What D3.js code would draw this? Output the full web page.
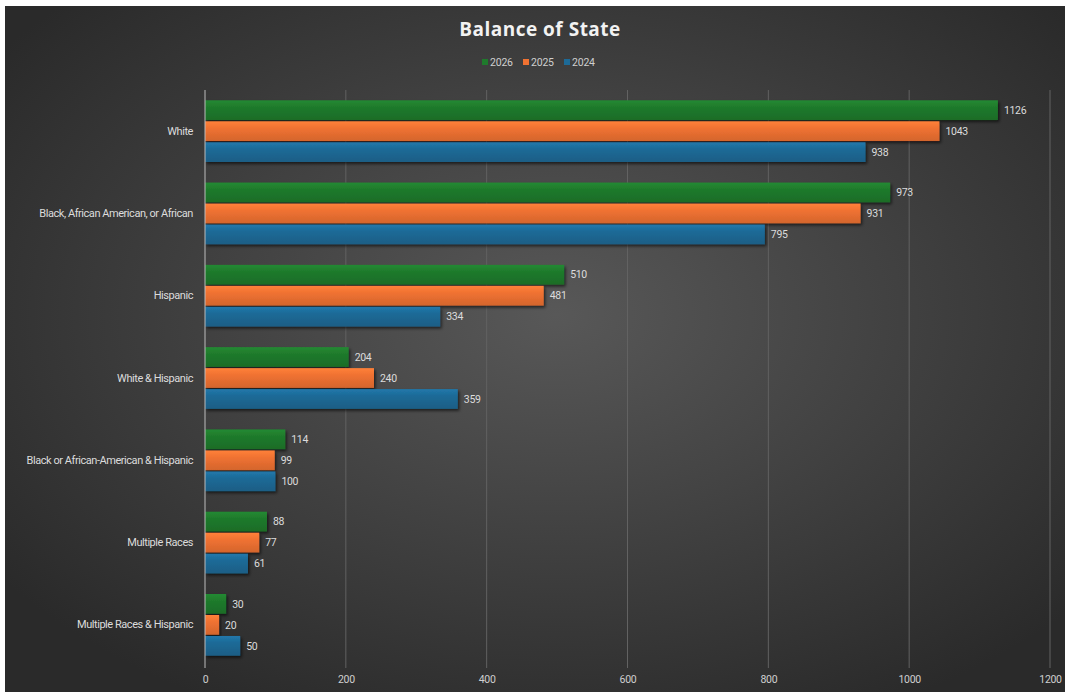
<!DOCTYPE html>
<html>
<head>
<meta charset="utf-8">
<script src="https://cdn.jsdelivr.net/npm/d3@7"></script>
<style>
  html, body { margin: 0; padding: 0; background: #fff; }
  #chart { width: 1066px; height: 692px; }
  text { font-family: "Roboto", "Liberation Sans", sans-serif; }
</style>
</head>
<body>
<div id="chart"></div>
<script>
const categories = [
  'White',
  'Black, African American, or African',
  'Hispanic',
  'White & Hispanic',
  'Black or African-American & Hispanic',
  'Multiple Races',
  'Multiple Races & Hispanic'
];
const seriesNames = ['2026', '2025', '2024'];
const values2026 = [1126, 973, 510, 204, 114, 88, 30];
const values2025 = [1043, 931, 481, 240, 99, 77, 20];
const values2024 = [938, 795, 334, 359, 100, 61, 50];
const xTicks = [0, 200, 400, 600, 800, 1000, 1200];
const colors = { '2026': '#1f7a2c', '2025': '#f07232', '2024': '#1d6a97' };

const W = 1066, H = 692;
const svg = d3.select('#chart').append('svg').attr('width', W).attr('height', H);
const defs = svg.append('defs');

const bg = defs.append('radialGradient').attr('id', 'bg').attr('cx', '52%').attr('cy', '45%').attr('r', '65%');
bg.append('stop').attr('offset', '0%').attr('stop-color', '#585858');
bg.append('stop').attr('offset', '100%').attr('stop-color', '#2a2a2a');

seriesNames.forEach(s => {
  const g = defs.append('linearGradient').attr('id', 'g' + s).attr('x1', 0).attr('y1', 0).attr('x2', 0).attr('y2', 1);
  const c = d3.color(colors[s]);
  g.append('stop').attr('offset', '0%').attr('stop-color', c.brighter(0.35));
  g.append('stop').attr('offset', '35%').attr('stop-color', c);
  g.append('stop').attr('offset', '100%').attr('stop-color', c.darker(0.35));
});

const shadow = defs.append('filter').attr('id', 'shadow').attr('x', '-10%').attr('y', '-20%').attr('width', '130%').attr('height', '160%');
shadow.append('feDropShadow').attr('dx', 1.5).attr('dy', 2).attr('stdDeviation', 1.5).attr('flood-color', '#000').attr('flood-opacity', 0.6);

// background (chart image starts after a thin white border)
svg.append('rect').attr('x', 5).attr('y', 6).attr('width', W - 6).attr('height', H - 6).attr('fill', 'url(#bg)');

const x = d3.scaleLinear().domain([0, 1200]).range([205, 1050]);
const y0 = d3.scaleBand().domain(categories).range([90, 666]).paddingInner(0.25).paddingOuter(0.125);
const y1 = d3.scaleBand().domain(seriesNames).range([0, y0.bandwidth()]).paddingInner(0.06);

const data = categories.map((c, i) => ({
  cat: c,
  vals: [
    { s: '2026', v: values2026[i] },
    { s: '2025', v: values2025[i] },
    { s: '2024', v: values2024[i] }
  ]
}));

// gridlines
svg.append('g').selectAll('line').data(xTicks.slice(1)).join('line')
  .attr('x1', d => x(d)).attr('x2', d => x(d))
  .attr('y1', 90).attr('y2', 668)
  .attr('stroke', '#626262').attr('stroke-width', 1);

// x tick labels
const xAxis = svg.append('g').attr('transform', 'translate(0,668)')
  .call(d3.axisBottom(x).tickValues(xTicks).tickFormat(d3.format('d')).tickSize(0).tickPadding(8));
xAxis.select('.domain').remove();
xAxis.selectAll('text').attr('fill', '#cfcfcf').style('font-size', '10.5px').style('letter-spacing', '-0.3px');

// bars
const groups = svg.append('g').selectAll('g').data(data).join('g')
  .attr('transform', d => `translate(0,${y0(d.cat)})`);
groups.selectAll('rect').data(d => d.vals).join('rect')
  .attr('x', x(0))
  .attr('y', d => y1(d.s))
  .attr('width', d => x(d.v) - x(0))
  .attr('height', y1.bandwidth())
  .attr('fill', d => `url(#g${d.s})`)
  .attr('filter', 'url(#shadow)');
groups.selectAll('text.val').data(d => d.vals).join('text')
  .attr('class', 'val')
  .attr('x', d => x(d.v) + 6)
  .attr('y', d => y1(d.s) + y1.bandwidth() / 2)
  .attr('dy', '0.35em')
  .attr('fill', '#dcdcdc')
  .style('font-size', '10.5px')
  .style('letter-spacing', '-0.3px')
  .text(d => d.v);

// y axis
const yAxis = svg.append('g').attr('transform', `translate(${x(0)},0)`)
  .call(d3.axisLeft(y0).tickSize(0).tickPadding(12));
yAxis.select('.domain').attr('stroke', '#bdbdbd').attr('d', 'M0,90V668');
yAxis.selectAll('text').attr('fill', '#dcdcdc').style('font-size', '11px').style('letter-spacing', '-0.45px');

// title
svg.append('text').attr('x', 540).attr('y', 36).attr('text-anchor', 'middle')
  .attr('fill', '#f2f2f2').style('font-size', '19px').style('font-weight', 'bold')
  .style('font-family', '"Open Sans", "DejaVu Sans", sans-serif').style('letter-spacing', '0.5px')
  .text('Balance of State');

// legend
const legend = svg.append('g').attr('transform', 'translate(482,62)');
seriesNames.forEach((s, i) => {
  const g = legend.append('g').attr('transform', `translate(${i * 41},0)`);
  g.append('rect').attr('x', 0).attr('y', -3).attr('width', 6).attr('height', 6).attr('fill', colors[s]);
  g.append('text').attr('x', 8).attr('y', 0).attr('dy', '0.35em').attr('fill', '#cfcfcf').style('font-size', '10.5px').style('letter-spacing', '-0.2px').text(s);
});
</script>
</body>
</html>
